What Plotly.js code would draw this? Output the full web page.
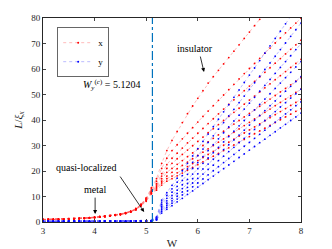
<!DOCTYPE html>
<html><head><meta charset="utf-8">
<script src="https://cdn.plot.ly/plotly-3.0.1.min.js"></script>
<style>html,body{margin:0;padding:0;background:#fff}#chart{width:332px;height:249px}</style>
</head><body><div id="chart"></div>
<script>
var W = [3.0,3.1,3.2,3.3,3.4,3.5,3.6,3.7,3.8,3.9,4.0,4.1,4.2,4.3,4.4,4.5,4.6,4.7,4.8,4.9,5.0,5.1,5.2,5.3,5.4,5.5,5.6,5.7,5.8,5.9,6.0,6.1,6.2,6.3,6.4,6.5,6.6,6.7,6.8,6.9,7.0,7.1,7.2,7.3,7.4,7.5,7.6,7.7,7.8,7.9,8.0];

var xR1 = [1.05,1.1,1.15,1.2,1.25,1.35,1.4,1.5,1.6,1.75,1.95,2.15,2.35,2.6,2.9,3.2,3.7,4.3,5.3,7.0,9.5,13.5,17,23,28,32,35.5,39,42.5,45.5,48.5,51.5,54.5,57,59.5,62,64.5,67,69.5,72,74.5,77,79.5,82,84.5,87,89.5,92,94.5,97,99.5];
var xR2 = [1.0,1.05,1.1,1.15,1.2,1.3,1.35,1.45,1.55,1.7,1.9,2.1,2.3,2.5,2.8,3.1,3.6,4.2,5.2,6.9,9.3,13,16,21,25,28,30.3,32.6,34.8,37,39.2,41.4,43.5,45.6,47.7,49.8,51.9,54,56.1,58.2,60.2,62.2,64.2,66.2,68.2,70.2,72.2,74.2,76.1,78,79.9];
var xR3 = [1.0,1.0,1.05,1.1,1.15,1.25,1.3,1.4,1.5,1.65,1.85,2.05,2.25,2.45,2.75,3.05,3.55,4.15,5.1,6.8,9.1,12.5,15,19,22.5,25,27,29,31,32.9,34.8,36.7,38.6,40.5,42.4,44.3,46.1,47.9,49.7,51.5,53.3,55.1,56.9,58.7,60.5,62.3,64.1,65.9,67.7,69.5,71.3];
var xR4 = [0.95,1.0,1.05,1.1,1.15,1.2,1.3,1.4,1.5,1.65,1.85,2.0,2.2,2.45,2.7,3.0,3.5,4.1,5.0,6.7,8.9,12,14.5,18,21,23,24.8,26.5,28.2,29.9,31.6,33.3,35,36.6,38.2,39.8,41.4,43,44.6,46.2,47.8,49.4,51,52.6,54.2,55.8,57.4,59,60.6,62.2,63.8];
var xR5 = [0.95,1.0,1.0,1.05,1.1,1.2,1.25,1.35,1.45,1.6,1.8,2.0,2.2,2.4,2.7,3.0,3.45,4.05,5.0,6.6,8.7,11.8,14,17,19.5,21,22.6,24.1,25.6,27.1,28.6,30,31.4,32.8,34.2,35.6,37,38.4,39.8,41.2,42.6,44,45.4,46.8,48.2,49.6,51,52.4,53.8,55.2,56.6];
var xR6 = [0.9,0.95,1.0,1.05,1.1,1.15,1.25,1.35,1.45,1.6,1.75,1.95,2.15,2.4,2.65,2.95,3.4,4.0,4.9,6.5,8.5,11.5,13.5,16,18,19.5,20.9,22.2,23.5,24.8,26.1,27.4,28.7,30,31.3,32.6,33.9,35.2,36.5,37.8,39.1,40.4,41.7,43,44.3,45.6,46.9,48.2,49.5,50.8,52.1];
var xR7 = [0.9,0.95,0.95,1.0,1.05,1.15,1.2,1.3,1.4,1.55,1.75,1.95,2.1,2.35,2.6,2.9,3.35,3.95,4.85,6.4,8.3,11.2,13,15.3,17,18,19.3,20.5,21.7,22.9,24.1,25.3,26.5,27.7,28.9,30.1,31.3,32.5,33.7,34.9,36.1,37.3,38.5,39.7,40.9,42.1,43.3,44.5,45.7,46.9,48.1];
var xR8 = [0.85,0.9,0.95,1.0,1.05,1.1,1.2,1.3,1.4,1.5,1.7,1.9,2.1,2.3,2.6,2.85,3.3,3.9,4.8,6.3,8.1,11,12.5,14.5,16,17,18.1,19.2,20.3,21.4,22.5,23.6,24.7,25.8,26.9,28,29.1,30.2,31.3,32.4,33.5,34.6,35.7,36.8,37.9,39,40.1,41.2,42.3,43.4,44.5];

var yB1 = [0.4,0.4,0.4,0.4,0.4,0.4,0.4,0.4,0.4,0.4,0.4,0.4,0.4,0.4,0.4,0.45,0.45,0.45,0.45,0.5,0.5,0.6,2,8.6,11.5,14.4,17.2,20.1,23,25.9,28.8,31.6,34.5,37.4,40.3,43.2,46,48.9,51.8,54.7,57.6,60.4,63.3,66.2,69.1,72,74.8,77.7,80.6,83.5,86.4];
var yB2 = [0.35,0.35,0.35,0.35,0.35,0.35,0.35,0.35,0.35,0.35,0.35,0.35,0.35,0.35,0.35,0.4,0.4,0.4,0.4,0.45,0.45,0.55,1.8,7.8,10.4,13,15.6,18.2,20.8,23.4,26,28.6,31.2,33.8,36.4,39,41.6,44.2,46.8,49.4,52,54.6,57.2,59.8,62.4,65,67.6,70.2,72.8,75.4,78];
var yB3 = [0.3,0.3,0.3,0.3,0.3,0.3,0.3,0.3,0.3,0.3,0.3,0.3,0.3,0.3,0.3,0.35,0.35,0.35,0.35,0.4,0.4,0.5,1.6,7,9.3,11.7,14,16.3,18.7,21,23.3,25.6,28,30.3,32.6,35,37.3,39.6,41.9,44.3,46.6,48.9,51.3,53.6,55.9,58.3,60.6,62.9,65.2,67.6,69.9];
var yB4 = [0.3,0.3,0.3,0.3,0.3,0.3,0.3,0.3,0.3,0.3,0.3,0.3,0.3,0.3,0.3,0.3,0.3,0.3,0.35,0.35,0.4,0.45,1.4,6.2,8.3,10.4,12.5,14.6,16.7,18.8,20.9,23,25.1,27.2,29.3,31.4,33.5,35.6,37.7,39.8,41.9,44,46.1,48.2,50.3,52.4,54.5,56.6,58.7,60.8,62.9];
var yB5 = [0.25,0.25,0.25,0.25,0.25,0.25,0.25,0.25,0.25,0.25,0.25,0.25,0.25,0.25,0.25,0.3,0.3,0.3,0.3,0.3,0.35,0.4,1.2,5.5,7.4,9.3,11.2,13.1,15.1,17,18.9,20.8,22.7,24.6,26.5,28.4,30.3,32.2,34.1,36,38,39.9,41.8,43.7,45.6,47.5,49.4,51.3,53.2,55.1,57];
var yB6 = [0.25,0.25,0.25,0.25,0.25,0.25,0.25,0.25,0.25,0.25,0.25,0.25,0.25,0.25,0.25,0.25,0.25,0.25,0.3,0.3,0.3,0.35,1.0,4.8,6.6,8.3,10.1,11.8,13.6,15.3,17.1,18.8,20.6,22.3,24.1,25.8,27.6,29.3,31.1,32.8,34.6,36.3,38.1,39.8,41.6,43.3,45.1,46.8,48.6,50.3,52.1];
var yB7 = [0.2,0.2,0.2,0.2,0.2,0.2,0.2,0.2,0.2,0.2,0.2,0.2,0.2,0.2,0.2,0.2,0.2,0.25,0.25,0.25,0.3,0.3,0.9,4.2,5.8,7.4,9,10.6,12.2,13.8,15.3,16.9,18.5,20.1,21.7,23.3,24.9,26.5,28.1,29.7,31.2,32.8,34.4,36,37.6,39.2,40.8,42.4,44,45.6,47.1];
var yB8 = [0.2,0.2,0.2,0.2,0.2,0.2,0.2,0.2,0.2,0.2,0.2,0.2,0.2,0.2,0.2,0.2,0.2,0.2,0.2,0.25,0.25,0.3,0.8,3.5,5.0,6.4,7.9,9.3,10.8,12.2,13.7,15.1,16.6,18,19.5,20.9,22.4,23.8,25.3,26.7,28.2,29.6,31.1,32.5,34,35.4,36.9,38.3,39.8,41.2,42.7];

var redSeries = [xR1,xR2,xR3,xR4,xR5,xR6,xR7,xR8];
var blueSeries = [yB1,yB2,yB3,yB4,yB5,yB6,yB7,yB8];
var Wc = 5.1204;
var xTicks = [3,4,5,6,7,8];
var yTicks = [0,10,20,30,40,50,60,70,80];

var serif = '"Liberation Serif", "Times New Roman", serif';
var traces = [];
function addSet(series, col, lineCol, name) {
  series.forEach(function (ys, i) {
    traces.push({
      x: W, y: ys, type: 'scatter', mode: 'lines+markers',
      name: name, legendgroup: name, showlegend: i === 0,
      line: {color: lineCol, width: 0.7, dash: 'dot'},
      marker: {color: col, size: 1.8}
    });
  });
}
addSet(redSeries, '#ff0000', 'rgba(255,80,80,0.55)', 'x');
addSet(blueSeries, '#0000ff', 'rgba(80,80,255,0.55)', 'y');
traces.push({
  x: [Wc, Wc], y: [0, 80], type: 'scatter', mode: 'lines', showlegend: false,
  line: {color: '#0072BD', width: 1.2, dash: 'dashdot'}, hoverinfo: 'skip'
});

var layout = {
  width: 332, height: 249,
  margin: {l: 43, r: 31, t: 18, b: 27},
  paper_bgcolor: '#fff', plot_bgcolor: '#fff',
  font: {family: serif, size: 9, color: '#262626'},
  showlegend: true,
  legend: {x: 0.055, y: 0.955, xanchor: 'left', yanchor: 'top',
    bgcolor: '#fff', bordercolor: '#666', borderwidth: 1,
    font: {family: serif, size: 9, color: '#000'},
    itemwidth: 30, tracegroupgap: 0},
  xaxis: {range: [3, 8], tickvals: xTicks, ticks: 'inside', ticklen: 3,
    showline: true, mirror: 'ticks', linecolor: '#262626', linewidth: 1,
    showgrid: false, zeroline: false, tickfont: {family: serif, size: 9},
    title: {text: 'W', font: {family: serif, size: 11}, standoff: 4}},
  yaxis: {range: [0, 80], tickvals: yTicks, ticks: 'inside', ticklen: 3,
    showline: true, mirror: 'ticks', linecolor: '#262626', linewidth: 1,
    showgrid: false, zeroline: false, tickfont: {family: serif, size: 9},
    title: {text: '<i>L</i>/<i>ξ<sub>x</sub></i>', font: {family: serif, size: 11}, standoff: 6}},
  annotations: [
    {x: 4.32, y: 53.7, xref: 'x', yref: 'y', showarrow: false,
      text: '<i>W</i><sub><i>y</i></sub><sup>(<i>c</i>)</sup> = 5.1204', font: {family: serif, size: 10, color: '#000'}},
    {x: 5.95, y: 68.2, xref: 'x', yref: 'y', showarrow: false, text: 'insulator', font: {family: serif, size: 10, color: '#000'}},
    {x: 6.12, y: 58.8, xref: 'x', yref: 'y', text: '', showarrow: true, ax: -4, ay: -17, arrowhead: 2, arrowsize: 1, arrowwidth: 0.8, arrowcolor: '#000'},
    {x: 3.85, y: 21.2, xref: 'x', yref: 'y', showarrow: false, text: 'quasi-localized', font: {family: serif, size: 10, color: '#000'}},
    {x: 4.96, y: 3.9, xref: 'x', yref: 'y', text: '', showarrow: true, ax: -25, ay: -37, arrowhead: 2, arrowsize: 1, arrowwidth: 0.8, arrowcolor: '#000'},
    {x: 4.01, y: 12.9, xref: 'x', yref: 'y', showarrow: false, text: 'metal', font: {family: serif, size: 10, color: '#000'}},
    {x: 4.01, y: 3.1, xref: 'x', yref: 'y', text: '', showarrow: true, ax: 0, ay: -18, arrowhead: 2, arrowsize: 1, arrowwidth: 0.8, arrowcolor: '#000'}
  ]
};
Plotly.newPlot('chart', traces, layout, {displayModeBar: false, staticPlot: true});
</script></body></html>
